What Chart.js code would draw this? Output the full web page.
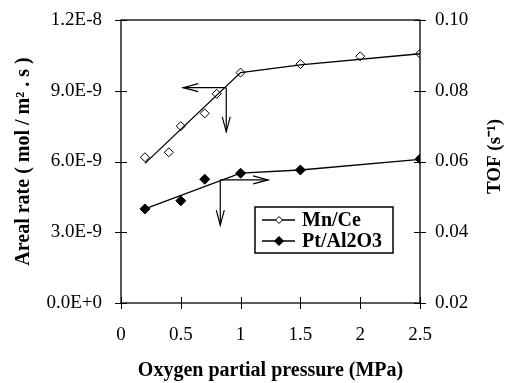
<!DOCTYPE html>
<html lang="en">
<head>
    <meta charset="UTF-8">
    <title>Areal rate and TOF vs oxygen partial pressure</title>
    <script src="https://cdn.jsdelivr.net/npm/chart.js"></script>
    <style>
        html, body { margin: 0; padding: 0; background: #fff; }
        #wrap { width: 506px; height: 383px; }
    </style>
</head>
<body>
    <div id="wrap"><canvas id="chart" width="506" height="383"></canvas></div>

    <script>
        // measured points (Mn/Ce on left axis, Pt/Al2O3 on right TOF axis)
        const mnX = [0.2, 0.4, 0.5, 0.7, 0.8, 1.0, 1.5, 2.0, 2.5];
        const mnY = [6.18e-9, 6.39e-9, 7.5e-9, 8.04e-9, 8.87e-9, 9.77e-9, 10.13e-9, 10.46e-9, 10.57e-9];
        const ptX = [0.2, 0.5, 0.7, 1.0, 1.5, 2.5];
        const ptY = [0.0466, 0.0489, 0.0550, 0.0567, 0.0576, 0.0607];

        // trend lines drawn through the points
        const mnFitX = [0.2, 1.0, 1.5, 2.5];
        const mnFitY = [5.92e-9, 9.77e-9, 10.1e-9, 10.57e-9];
        const ptFitX = [0.2, 1.0, 1.5, 2.5];
        const ptFitY = [0.0466, 0.0567, 0.0576, 0.0606];

        // arrows: [cornerX, cornerY, horizontal end x, vertical end y]
        const mnArrow = [0.88, 9.13e-9, 0.52, 7.26e-9];
        const ptArrow = [0.83, 0.0548, 1.23, 0.042];

        const seriesNames = ['Mn/Ce', 'Pt/Al2O3'];
        const xTickLabels = ['0', '0.5', '1', '1.5', '2', '2.5'];
        const leftTickLabels = ['0.0E+0', '3.0E-9', '6.0E-9', '9.0E-9', '1.2E-8'];
        const rightTickLabels = ['0.02', '0.04', '0.06', '0.08', '0.10'];
        const rightTitle = 'TOF (s⁻¹)';

        const serif = "'Liberation Serif', 'Times New Roman', serif";
        const toPts = (xs, ys) => xs.map((x, i) => ({ x: x, y: ys[i] }));

        // no extra room around tick labels, the sizes are set by hand
        function fixSize(prop, value) {
            return s => {
                s[prop] = value;
                s.paddingTop = 0; s.paddingBottom = 0;
                s.paddingLeft = 0; s.paddingRight = 0;
            };
        }

        // frame, crossing tick marks, arrows, legend and right title
        const decorations = {
            id: 'decorations',
            afterDatasetsDraw(chart) {
                const ctx = chart.ctx;
                const a = chart.chartArea;
                const sx = chart.scales.x, sy = chart.scales.y, sy2 = chart.scales.y2;
                ctx.save();
                ctx.strokeStyle = '#000';
                ctx.lineWidth = 1.3;
                ctx.strokeRect(a.left, a.top, a.right - a.left, a.bottom - a.top);

                ctx.lineWidth = 1;
                ctx.beginPath();
                sx.ticks.forEach(t => {
                    const px = Math.round(sx.getPixelForValue(t.value)) + 0.5;
                    ctx.moveTo(px, a.bottom - 6); ctx.lineTo(px, a.bottom + 6);
                });
                sy.ticks.forEach(t => {
                    const py = Math.round(sy.getPixelForValue(t.value)) + 0.5;
                    ctx.moveTo(a.left - 6, py); ctx.lineTo(a.left + 6, py);
                });
                sy2.ticks.forEach(t => {
                    const py = Math.round(sy2.getPixelForValue(t.value)) + 0.5;
                    ctx.moveTo(a.right - 6, py); ctx.lineTo(a.right + 6, py);
                });
                ctx.stroke();

                function arrowHead(x, y, dx, dy) {
                    // open V head pointing along (dx, dy)
                    const len = 15, half = 4;
                    const bx = x - dx * len, by = y - dy * len;
                    ctx.beginPath();
                    ctx.moveTo(bx - dy * half, by + dx * half);
                    ctx.lineTo(x, y);
                    ctx.lineTo(bx + dy * half, by - dx * half);
                    ctx.stroke();
                }
                function drawArrows(arr, scaleY) {
                    const cx = sx.getPixelForValue(arr[0]);
                    const cy = scaleY.getPixelForValue(arr[1]);
                    const hx = sx.getPixelForValue(arr[2]);
                    const vy = scaleY.getPixelForValue(arr[3]);
                    ctx.lineWidth = 1.2;
                    ctx.beginPath();
                    ctx.moveTo(cx, cy); ctx.lineTo(hx, cy);
                    ctx.moveTo(cx, cy); ctx.lineTo(cx, vy);
                    ctx.stroke();
                    arrowHead(hx, cy, Math.sign(hx - cx), 0);
                    arrowHead(cx, vy, 0, 1);
                }
                drawArrows(mnArrow, sy);
                drawArrows(ptArrow, sy2);

                // legend box
                const lx = a.left + 134, ly = a.top + 187, lw = 138, lh = 46;
                ctx.fillStyle = '#fff';
                ctx.fillRect(lx, ly, lw, lh);
                ctx.lineWidth = 1.5;
                ctx.strokeRect(lx, ly, lw, lh);
                ctx.font = 'bold 20px ' + serif;
                ctx.textBaseline = 'middle';
                seriesNames.forEach((name, i) => {
                    const y = ly + 13 + i * 21;
                    ctx.strokeStyle = '#000';
                    ctx.lineWidth = 1.3;
                    ctx.beginPath();
                    ctx.moveTo(lx + 7, y); ctx.lineTo(lx + 40, y);
                    ctx.stroke();
                    const r = i === 0 ? 3.5 : 4.5;
                    const mx = lx + 24;
                    ctx.beginPath();
                    ctx.moveTo(mx - r, y); ctx.lineTo(mx, y - r);
                    ctx.lineTo(mx + r, y); ctx.lineTo(mx, y + r);
                    ctx.closePath();
                    ctx.fillStyle = i === 0 ? '#fff' : '#000';
                    ctx.fill();
                    ctx.lineWidth = 1;
                    ctx.stroke();
                    ctx.fillStyle = '#000';
                    ctx.fillText(name, lx + 47, y + 1);
                });

                // right axis title reads bottom to top
                ctx.translate(a.right + 75, (a.top + a.bottom) / 2 - 5);
                ctx.rotate(-Math.PI / 2);
                ctx.textAlign = 'center';
                ctx.textBaseline = 'middle';
                ctx.font = 'bold 19px ' + serif;
                ctx.fillText(rightTitle, 0, 0);
                ctx.restore();
            }
        };

        const ctx = document.getElementById('chart').getContext('2d');
        new Chart(ctx, {
            type: 'scatter',
            data: {
                datasets: [
                    {
                        label: seriesNames[0] + ' line',
                        data: toPts(mnFitX, mnFitY),
                        showLine: true,
                        borderColor: '#000',
                        borderWidth: 1.3,
                        pointRadius: 0,
                        yAxisID: 'y'
                    },
                    {
                        label: seriesNames[1] + ' line',
                        data: toPts(ptFitX, ptFitY),
                        showLine: true,
                        borderColor: '#000',
                        borderWidth: 1.3,
                        pointRadius: 0,
                        yAxisID: 'y2'
                    },
                    {
                        label: seriesNames[0],
                        data: toPts(mnX, mnY),
                        pointStyle: 'rectRot',
                        pointRadius: 4.5,
                        pointBackgroundColor: '#fff',
                        pointBorderColor: '#000',
                        pointBorderWidth: 1,
                        yAxisID: 'y'
                    },
                    {
                        label: seriesNames[1],
                        data: toPts(ptX, ptY),
                        pointStyle: 'rectRot',
                        pointRadius: 5,
                        pointBackgroundColor: '#000',
                        pointBorderColor: '#000',
                        pointBorderWidth: 1,
                        yAxisID: 'y2'
                    }
                ]
            },
            options: {
                responsive: false,
                animation: false,
                layout: { padding: { top: 20, left: 0, right: 0, bottom: 0 } },
                plugins: {
                    legend: { display: false },
                    tooltip: { enabled: false }
                },
                scales: {
                    x: {
                        type: 'linear',
                        min: 0, max: 2.5,
                        grid: { display: false, drawTicks: false },
                        border: { display: false },
                        afterFit: fixSize('height', 80),
                        ticks: {
                            stepSize: 0.5,
                            padding: 21,
                            color: '#000',
                            font: { family: serif, size: 19 },
                            maxRotation: 0,
                            callback: (v, i) => xTickLabels[i]
                        },
                        title: {
                            display: true,
                            text: 'Oxygen partial pressure (MPa)',
                            color: '#000',
                            font: { family: serif, size: 20, weight: 'bold' },
                            padding: { top: 0, bottom: 0 }
                        }
                    },
                    y: {
                        position: 'left',
                        min: 0, max: 1.2e-8,
                        grid: { display: false, drawTicks: false },
                        border: { display: false },
                        afterFit: fixSize('width', 121),
                        ticks: {
                            stepSize: 3e-9,
                            padding: 19,
                            color: '#000',
                            font: { family: serif, size: 19 },
                            callback: (v, i) => leftTickLabels[i]
                        },
                        title: {
                            display: true,
                            text: 'Areal rate ( mol / m² . s )',
                            color: '#000',
                            font: { family: serif, size: 20, weight: 'bold' },
                            padding: { top: 12, bottom: 0 }
                        }
                    },
                    y2: {
                        position: 'right',
                        min: 0.02, max: 0.1,
                        grid: { display: false, drawTicks: false },
                        border: { display: false },
                        afterFit: fixSize('width', 86),
                        ticks: {
                            stepSize: 0.02,
                            padding: 15,
                            color: '#000',
                            font: { family: serif, size: 19 },
                            callback: (v, i) => rightTickLabels[i]
                        }
                    }
                }
            },
            plugins: [decorations]
        });
    </script>
</body>
</html>
